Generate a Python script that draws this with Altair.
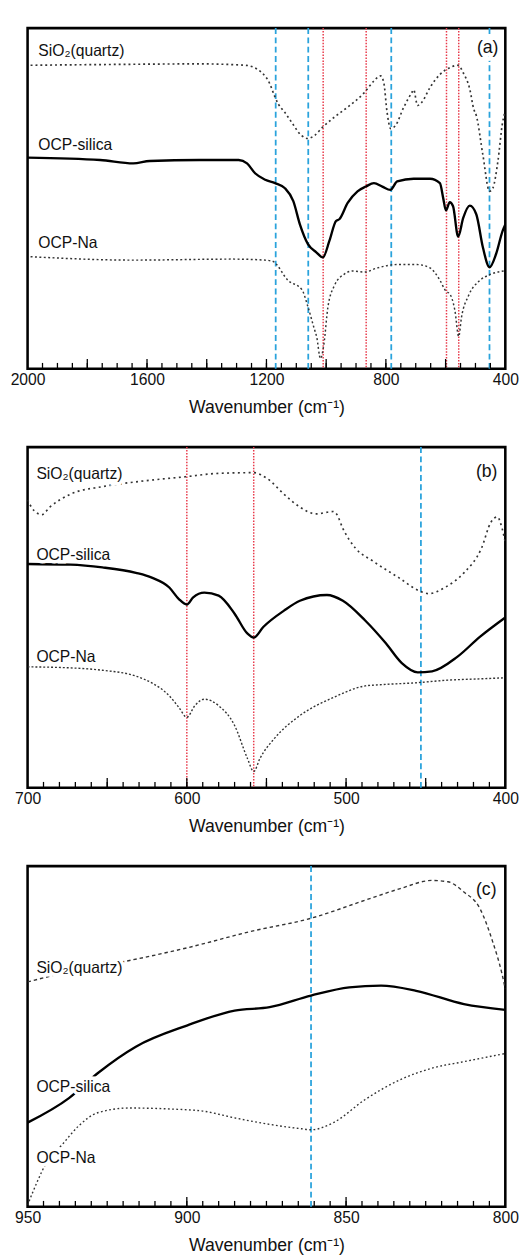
import altair as alt
import pandas as pd

# ---------------- data ----------------
# Panel (a): 2000-400 cm-1
a_sio2_wn = [1990, 1757, 1425, 1271, 1215, 1188, 1173, 1160, 1138, 1116, 1083, 1061, 1039, 1011, 972, 928,
             873, 840, 818, 807, 796, 784, 768, 740, 713, 707, 694, 680, 652, 619, 586, 558, 541, 519, 506,
             497, 475, 453, 442, 425, 409, 403]
a_sio2_t = [89.1, 89.3, 89.5, 89.1, 86.9, 83.5, 80.1, 77.7, 75.2, 72.4, 68.5, 67.6, 68.5, 71.0, 73.9, 76.8,
            81.0, 84.5, 86.0, 84.0, 75.3, 70.5, 71.4, 76.8, 81.1, 81.9, 77.3, 78.2, 82.6, 86.4, 88.4, 89.1,
            86.9, 82.1, 76.3, 74.3, 62.7, 52.1, 53.0, 60.8, 72.4, 74.8]

a_silica_wn = [2000, 1757, 1646, 1591, 1425, 1293, 1265, 1238, 1204, 1171, 1138, 1110, 1088, 1061, 1033,
               1011, 989, 967, 956, 928, 895, 867, 840, 812, 785, 762, 707, 652, 619, 608, 599, 586, 575,
               558, 541, 519, 497, 475, 453, 431, 409, 400]
a_silica_t = [62.0, 61.3, 60.3, 61.0, 61.3, 61.3, 60.3, 57.4, 55.5, 54.5, 53.0, 49.2, 42.4, 36.6, 34.2,
              32.7, 37.6, 43.4, 43.9, 48.7, 52.1, 53.5, 54.5, 53.5, 52.5, 55.0, 55.8, 55.8, 54.5, 50.1,
              46.5, 48.9, 47.7, 38.8, 44.3, 47.9, 45.3, 35.6, 29.8, 33.7, 40.5, 42.4]

a_na_wn = [1990, 1646, 1315, 1204, 1180, 1127, 1081, 1061, 1039, 1032, 1019, 1008, 994, 972, 939, 912,
           873, 829, 762, 696, 652, 619, 599, 586, 569, 556, 547, 523, 486, 453, 400]
a_na_t = [32.9, 31.9, 32.2, 31.9, 31.6, 25.9, 23.2, 18.2, 11.5, 9.5, 3.0, 7.0, 18.2, 24.5, 27.8, 28.7,
          28.4, 29.6, 30.6, 30.6, 29.6, 26.0, 22.8, 22.0, 17.2, 9.5, 15.0, 21.5, 25.9, 27.6, 28.8]

# Panel (b): 700-400 cm-1
b_sio2_wn = [700, 696, 691, 686, 673, 653, 632, 601, 580, 558, 549, 539, 529, 519, 508, 506, 502, 494,
             483, 467, 454, 448, 438, 426, 415, 409, 405, 402, 400]
b_sio2_t = [84.5, 81.4, 80.2, 82.4, 86.2, 88.4, 89.8, 91.3, 92.3, 92.5, 90.6, 86.2, 82.4, 80.4, 81.1,
            80.4, 76.1, 70.3, 66.5, 61.7, 57.8, 57.0, 58.8, 63.1, 70.3, 78.0, 79.5, 76.1, 72.0]

b_silica_wn = [700, 673, 653, 632, 622, 611, 605, 600, 596, 589, 580, 570, 562, 558, 552, 539, 529, 512,
               502, 488, 475, 465, 455, 446, 430, 416, 400]
b_silica_t = [65.7, 65.5, 64.7, 63.1, 61.7, 58.8, 55.4, 53.8, 55.9, 57.3, 56.4, 51.1, 45.3, 44.1, 47.2,
              52.0, 54.9, 56.6, 54.9, 49.1, 42.4, 36.6, 33.9, 34.2, 38.5, 44.3, 50.0]

b_na_wn = [700, 673, 653, 632, 622, 611, 605, 600, 595, 589, 580, 570, 562, 558, 554, 545, 529, 508, 488,
           477, 457, 436, 415, 400]
b_na_t = [35.5, 35.2, 34.5, 32.8, 30.8, 27.0, 23.6, 20.7, 24.1, 26.0, 24.1, 18.3, 8.7, 4.8, 8.7, 14.5,
          21.2, 26.5, 29.9, 30.3, 30.8, 31.6, 32.0, 32.3]

# Panel (c): 950-800 cm-1
c_sio2_wn = [950, 936, 918, 900, 880, 861, 844, 833, 823, 818, 813, 808, 804, 801, 800]
c_sio2_t = [66.0, 69.2, 72.3, 76.0, 80.8, 84.7, 90.0, 93.4, 95.8, 95.4, 92.4, 87.6, 77.9, 68.2, 63.9]

c_silica_wn = [950, 937, 928, 916, 900, 885, 874, 861, 849, 839, 828, 813, 800]
c_silica_t = [24.7, 31.9, 39.2, 47.0, 53.2, 57.6, 58.6, 62.0, 64.4, 64.9, 63.4, 59.5, 57.8]

c_na_wn = [950, 947, 944, 939, 934, 928, 918, 905, 895, 885, 874, 864, 861, 854, 844, 833, 823, 813, 800]
c_na_t = [0.5, 7.3, 13.1, 18.4, 23.7, 27.6, 29.0, 28.7, 28.1, 26.1, 24.2, 22.9, 22.6, 24.7, 31.5, 37.3,
          40.7, 42.6, 45.0]

# reference lines
a_blue = [1169, 1060, 782, 453]
a_red = [1010, 866, 597, 556]
b_blue = [453]
b_red = [600, 558]
c_blue = [861]

series_names = ["SiO\u2082(quartz)", "OCP-silica", "OCP-Na"]
panel_tags = ["(a)", "(b)", "(c)"]

# axis ticks / labels
a_labels = [2000, 1600, 1200, 800, 400]
a_major = [1800, 1600, 1400, 1200, 1000, 800, 600]
a_minor = list(range(1950, 400, -50))
b_labels = [700, 600, 500, 400]
b_major = [650, 600, 550, 500, 450]
b_minor = list(range(690, 400, -10))
c_labels = [950, 900, 850, 800]
c_major = [900, 850]
c_minor = list(range(945, 800, -5))

# ---------------- styling ----------------
W, H = 488, 348
FONT = "Liberation Sans"
BLUE = "#2aa3dc"
RED = "#e8394a"


def make_x(lo, hi, labels):
    scale = alt.Scale(domain=[lo, hi], reverse=True, nice=False, zero=False)
    axis = alt.Axis(values=labels, ticks=False, domain=False, grid=False, labelFlush=False,
                    labelPadding=3, labelFont=FONT, labelFontSize=16, labelColor="#111",
                    title="Wavenumber (cm\u207b\u00b9)", titleFont=FONT, titleFontSize=18,
                    titleFontWeight="normal", titleColor="#111", titlePadding=12, format="d")
    return scale, axis


YSCALE = alt.Scale(domain=[0, 100], nice=False, zero=False)


def curve(wn, t, dash, width, color, xs, xa):
    df = pd.DataFrame({"wn": wn, "t": t})
    mk = dict(strokeWidth=width, color=color, interpolate="monotone", clip=True)
    if dash:
        mk["strokeDash"] = dash
    return alt.Chart(df).mark_line(**mk).encode(
        x=alt.X("wn:Q", scale=xs, axis=xa),
        y=alt.Y("t:Q", scale=YSCALE, axis=None),
        order=alt.Order("wn:Q", sort="descending"))


def vlines(vals, color, dash, width, xs, xa):
    return alt.Chart(pd.DataFrame({"wn": vals})).mark_rule(
        color=color, strokeDash=dash, strokeWidth=width).encode(
        x=alt.X("wn:Q", scale=xs, axis=xa))


def ticks(vals, length, xs, xa):
    return alt.Chart(pd.DataFrame({"wn": vals})).mark_rule(color="black", strokeWidth=1.3).encode(
        x=alt.X("wn:Q", scale=xs, axis=xa), y=alt.value(H), y2=alt.value(H - length))


def text(label, px, py, align="left", size=16):
    base = alt.Chart(alt.Data(values=[{}]))
    halo = base.mark_text(align=align, baseline="middle", font=FONT, fontSize=size, stroke="white",
                          strokeWidth=7, color="white").encode(
        x=alt.value(px), y=alt.value(py), text=alt.value(label))
    fg = base.mark_text(align=align, baseline="middle", font=FONT, fontSize=size, color="#111").encode(
        x=alt.value(px), y=alt.value(py), text=alt.value(label))
    return [halo, fg]


def panel(lo, hi, labels, major, minor, curve_specs, ref_specs, label_pos, tag, tag_pos):
    xs, xa = make_x(lo, hi, labels)
    layers = []
    for vals, color, dash, width in ref_specs:
        layers.append(vlines(vals, color, dash, width, xs, xa))
    for wn, t, dash, width, color in curve_specs:
        layers.append(curve(wn, t, dash, width, color, xs, xa))
    for name, (px, py) in zip(series_names, label_pos):
        layers += text(name, px, py)
    layers += text(tag, tag_pos[0], tag_pos[1], align="right", size=18)
    layers.append(ticks(major, 10, xs, xa))
    layers.append(ticks(minor, 6, xs, xa))
    return alt.layer(*layers).properties(width=W, height=H)


pa = panel(400, 2000, a_labels, a_major, a_minor,
           [(a_sio2_wn, a_sio2_t, [2, 3], 1.7, "#333"),
            (a_silica_wn, a_silica_t, None, 2.4, "#000"),
            (a_na_wn, a_na_t, [2, 2.5], 1.5, "#333")],
           [(a_blue, BLUE, [6, 3.5], 1.8), (a_red, RED, [1.5, 1.5], 1.5)],
           [(11, 23), (11, 120), (11, 220)], panel_tags[0], (481, 20))

pb = panel(400, 700, b_labels, b_major, b_minor,
           [(b_sio2_wn, b_sio2_t, [2, 3.5], 1.7, "#333"),
            (b_silica_wn, b_silica_t, None, 2.4, "#000"),
            (b_na_wn, b_na_t, [2, 2], 1.4, "#333")],
           [(b_blue, BLUE, [6, 3.5], 1.8), (b_red, RED, [1.5, 1.5], 1.5)],
           [(9, 28), (9, 110), (9, 215)], panel_tags[1], (480, 26))

pc = panel(800, 950, c_labels, c_major, c_minor,
           [(c_sio2_wn, c_sio2_t, [3.5, 3], 1.4, "#333"),
            (c_silica_wn, c_silica_t, None, 2.4, "#000"),
            (c_na_wn, c_na_t, [1.8, 2.5], 1.4, "#333")],
           [(c_blue, BLUE, [6, 3.5], 1.8)],
           [(9, 104), (9, 226), (9, 298)], panel_tags[2], (479, 25))

chart = alt.vconcat(pa, pb, pc, spacing=26).properties(
    padding={"left": 0, "top": 4, "right": 0, "bottom": 0},
    background="white",
).configure_view(stroke="black", strokeWidth=2.6)

chart.save("out.html", embed_options={"renderer": "svg", "actions": False})
